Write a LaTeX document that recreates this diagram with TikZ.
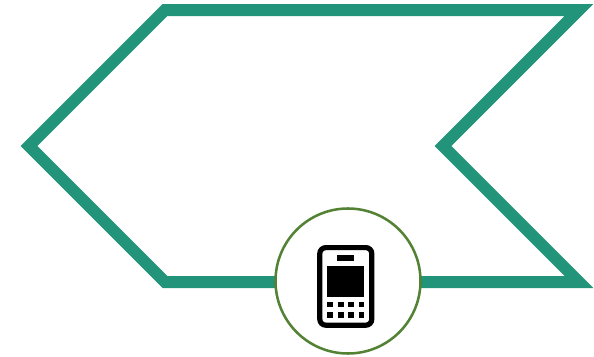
\documentclass[tikz,border=0pt]{standalone}
\definecolor{bandteal}{RGB}{34,148,121}
\definecolor{ringgreen}{RGB}{84,130,53}
\tikzset{
  band/.style={draw=bandteal, line width=9pt, miter limit=10},
  ring/.style={draw=ringgreen, fill=white, line width=1.9pt},
  phonebody/.style={draw=black, fill=white, line width=3.9pt, rounded corners=4.5pt},
  phonepart/.style={fill=black}
}
\begin{document}
\begin{tikzpicture}[x=0.75pt,y=-0.75pt]
  \useasboundingbox (0,0) rectangle (594,357);
  % Ruban
  \draw[band] (29,146) -- (165,10) -- (579,10) -- (443,146) -- (579,282) -- (165,282) -- cycle;

  % Cercle
  \draw[ring] (348,281) circle (72.5);

  % Telephone
  \draw[phonebody] (319.8,247.6) rectangle (371.8,325.2);
  \fill[phonepart] (337,255) rectangle (354,261.3);
  \fill[phonepart] (327,266) rectangle (364,296.7);

  % Touches
  \foreach \keyx/\keyw in {327/6,338/6,348.3/5.7,359/5}
    \foreach \keyy/\keyh in {302/5,312/6}
      \fill[phonepart] (\keyx,\keyy) rectangle ++(\keyw,\keyh);
\end{tikzpicture}
\end{document}
